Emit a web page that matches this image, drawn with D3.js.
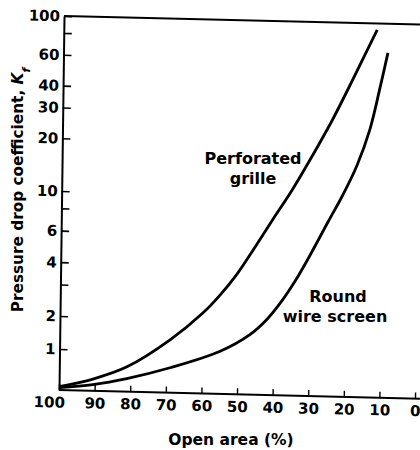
<!DOCTYPE html>
<html>
<head>
<meta charset="utf-8">
<script src="https://cdn.jsdelivr.net/npm/d3@7"></script>
<style>
  body { margin: 0; background: #fff; }
  text { font-family: "DejaVu Sans", sans-serif; font-weight: bold; fill: #000; }
</style>
</head>
<body>
<div id="chart"></div>
<script>
// values
const grilleOpen = [100, 90.5, 81, 69, 59.9, 55.2, 50.5, 46, 40.6, 35.1, 29.6, 24.1, 18.1, 12];
const grilleK = [0.53, 0.61, 0.76, 1.28, 2.17, 2.74, 3.61, 4.97, 7.4, 11.05, 17.4, 28.1, 50.2, 92];
const screenOpen = [100, 90.5, 81, 68.9, 54.9, 46.6, 41.9, 37.7, 34.1, 30.6, 25.1, 21, 17.2, 13.65, 11, 8.9];
const screenK = [0.52, 0.556, 0.624, 0.762, 1.035, 1.49, 2.04, 2.61, 3.37, 4.49, 7.28, 10.4, 15.3, 24.9, 42.9, 68.2];

const yTicks = [1, 2, 3, 4, 6, 8, 10, 20, 30, 40, 60, 80, 100];
const yLabels = [1, 2, 4, 6, 10, 20, 30, 40, 60, 100];
const xTicks = [100, 90, 80, 70, 60, 50, 40, 30, 20, 10, 0];

const w = 420;
const h = 450;
const ox = 59, oy = 390;

const svg = d3.select("#chart")
  .append("svg")
  .attr("width", w)
  .attr("height", h);

// the scan is slightly skewed, so the plot is too
const plot = svg.append("g")
  .attr("transform", "translate(" + ox + "," + oy + ") matrix(1,0.024,-0.0134,1,0,0) translate(" + (-ox) + "," + (-oy) + ")");

const x = d3.scaleLinear()
  .domain([100, 0])
  .range([ox, 415]);

// log paper of the original is not quite even, so several anchors
const y = d3.scaleLog()
  .domain([0.5, 1, 2, 10, 100])
  .range([oy, 349, 316, 191, 16]);

const yAxis = d3.axisLeft(y)
  .tickValues(yTicks)
  .tickFormat(d => yLabels.includes(d) ? d : "")
  .tickSizeInner(-8)
  .tickSizeOuter(0)
  .tickPadding(4);

const gy = plot.append("g")
  .attr("transform", "translate(" + ox + ",0)")
  .call(yAxis);
gy.select(".domain").attr("stroke-width", 2);
gy.selectAll(".tick line").attr("stroke-width", 1.6);
gy.selectAll("text").style("font-size", "15px").style("font-family", "DejaVu Sans");

const xAxis = d3.axisBottom(x)
  .tickValues(xTicks)
  .tickSizeInner(-6)
  .tickSizeOuter(0)
  .tickPadding(7);

const gx = plot.append("g")
  .attr("transform", "translate(0," + oy + ")")
  .call(xAxis);
gx.select(".domain").remove();
gx.selectAll(".tick line").attr("stroke-width", 1.4);
gx.selectAll("text").style("font-size", "15px").style("font-family", "DejaVu Sans");
gx.selectAll("text").filter(d => d == 100).attr("dx", -10);

// bottom and top frame lines run to the edge of the picture
plot.append("line")
  .attr("x1", ox).attr("x2", w + 5)
  .attr("y1", oy).attr("y2", oy)
  .attr("stroke", "#000").attr("stroke-width", 2);

plot.append("line")
  .attr("x1", ox).attr("x2", w + 5)
  .attr("y1", y(100)).attr("y2", y(100))
  .attr("stroke", "#000").attr("stroke-width", 2);

const line = d3.line()
  .x(d => x(d[0]))
  .y(d => y(d[1]))
  .curve(d3.curveCatmullRom.alpha(0.5));

plot.append("path")
  .datum(d3.zip(grilleOpen, grilleK))
  .attr("d", line)
  .attr("fill", "none")
  .attr("stroke", "#000")
  .attr("stroke-width", 2.8);

plot.append("path")
  .datum(d3.zip(screenOpen, screenK))
  .attr("d", line)
  .attr("fill", "none")
  .attr("stroke", "#000")
  .attr("stroke-width", 2.8);

// curve labels
const label = (tx, ty, s) => svg.append("text")
  .attr("x", tx).attr("y", ty)
  .attr("text-anchor", "middle")
  .style("font-size", "16px")
  .text(s);

label(253, 164, "Perforated");
label(253, 184, "grille");
label(338, 302, "Round");
label(335, 322, "wire screen");

// axis titles
svg.append("text")
  .attr("x", 231).attr("y", 445)
  .attr("text-anchor", "middle")
  .style("font-size", "15.5px")
  .text("Open area (%)");

const yt = svg.append("text")
  .attr("transform", "translate(23,190) rotate(-90)")
  .attr("text-anchor", "middle")
  .style("font-size", "15.3px");
yt.append("tspan").text("Pressure drop coefficient, ");
yt.append("tspan").style("font-style", "italic").text("K");
yt.append("tspan").attr("baseline-shift", "sub").style("font-size", "11px").style("font-style", "italic").text("f");
</script>
</body>
</html>
